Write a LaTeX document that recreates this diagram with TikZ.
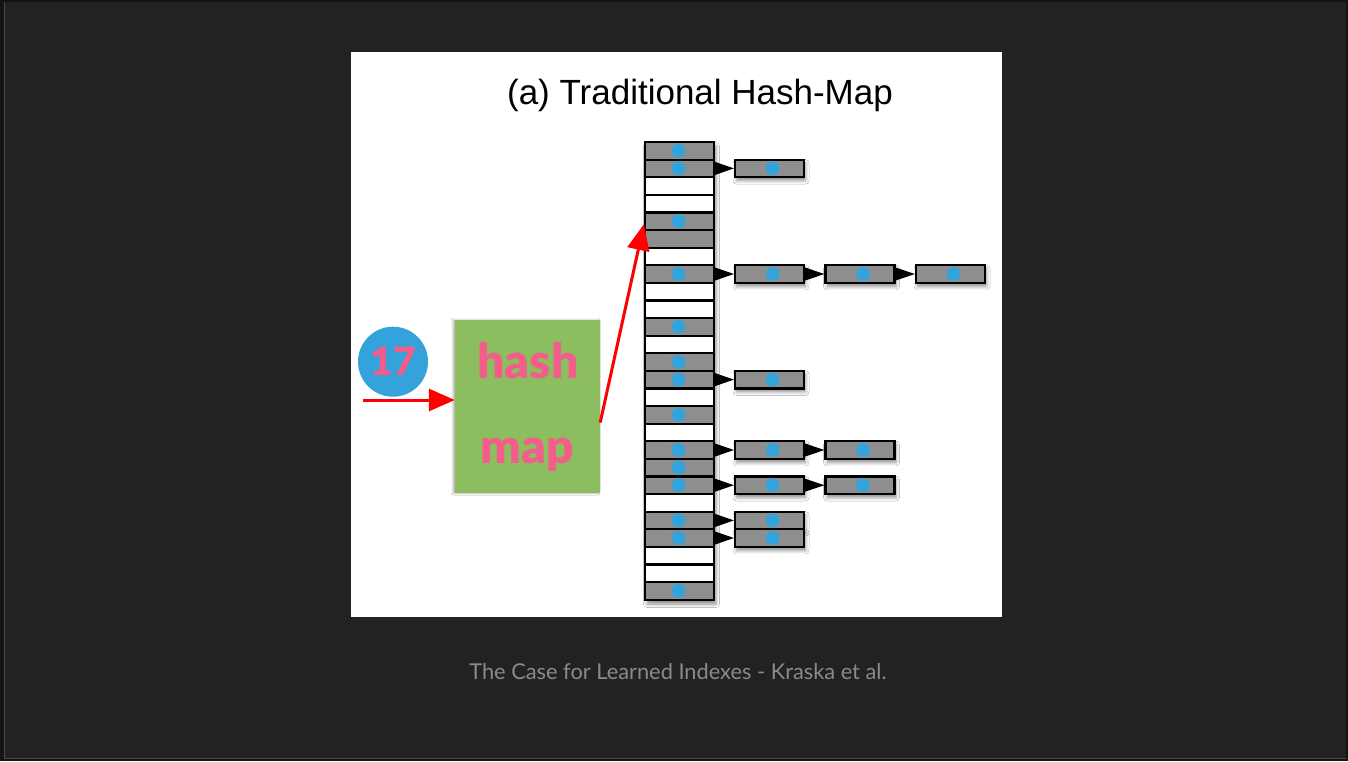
\documentclass[tikz,border=0pt]{standalone}
\usepackage{fontspec}
\setmainfont{Liberation Sans}
\newfontfamily\latofont{Lato}
\newfontfamily\latoheavy{Lato Black}
\usetikzlibrary{arrows.meta,shadows.blur,calc}
\definecolor{slidebg}{HTML}{222222}
\definecolor{slideedge}{HTML}{4A4A4A}
\definecolor{cellgray}{HTML}{8E8E8E}
\definecolor{dotblue}{HTML}{34A3DB}
\definecolor{hashgreen}{HTML}{8CBD5F}
\definecolor{hashpink}{HTML}{F45C8C}
\definecolor{captiongray}{HTML}{8A8A8A}
\tikzset{
  cell/.style={draw=black, line width=2.2pt, minimum width=69pt, minimum height=17.6pt, inner sep=0pt},
  link/.style={cell, fill=cellgray, blur shadow={shadow xshift=1.5pt, shadow yshift=-3.5pt, shadow blur radius=3.5pt, shadow opacity=45}},
  dot/.style={fill=dotblue},
  redarrow/.style={draw=red, line width=3pt, -{Triangle[length=26pt, width=22pt]}},
  pinktext/.style={text=hashpink, font=\latoheavy\fontsize{48}{52}\selectfont, inner sep=0pt}
}
\begin{document}
\begin{tikzpicture}[x=1pt, y=-1pt]
  % slide background and frame
  \fill[black!92] (0,0) rectangle (1348,761);
  \fill[slidebg] (4,2) rectangle (1346,758);
  \draw[slideedge, line width=1pt] (4,2) -- (4,758) -- (1346,758);
  \useasboundingbox (0,0) rectangle (1348,761);

  % white figure panel
  \fill[white] (351,52) rectangle (1002,617);
  \node[anchor=base, font=\fontsize{35}{40}\selectfont] (title) at (700,104) {(a) Traditional Hash-Map};

  % shadow under the bucket column
  \path[blur shadow={shadow xshift=2pt, shadow yshift=-4pt, shadow blur radius=3.5pt, shadow opacity=45}] (645,142) rectangle (714,600);

  % bucket array
  \foreach \c/\d [count=\i from 0] in {cellgray/1,cellgray/1,white/0,white/0,cellgray/1,cellgray/0,white/0,cellgray/1,white/0,white/0,cellgray/1,white/0,cellgray/1,cellgray/1,white/0,cellgray/1,white/0,cellgray/1,cellgray/1,cellgray/1,white/0,cellgray/1,cellgray/1,white/0,white/0,cellgray/1}{
    \node[cell, fill=\c] (r\i) at (679.5, {150.8+17.6*\i}) {};
    \ifnum\d=1 \fill[dot] ($(r\i.center)+(-1,0)$) circle (7); \fi
  }

  % overflow chains
  \foreach \r/\n in {1/1,7/3,13/1,17/2,19/2,21/1,22/1}{
    \foreach \k in {1,...,\n}{
      \node[link] (c\r-\k) at ({769.5+90.5*(\k-1)}, {150.8+17.6*\r}) {};
      \fill[dot] ($(c\r-\k.center)+(3,0)$) circle (7);
    }
  }
  \foreach \r/\n in {1/1,7/3,13/1,17/2,19/2,21/1,22/1}{
    \foreach \k in {1,...,\n}{
      \pgfmathtruncatemacro\p{\k-1}
      \ifnum\k=1 \def\src{r\r}\else\def\src{c\r-\p}\fi
      \fill[black] ($(\src.east)+(0,-6.5)$) -- (c\r-\k.west) -- ($(\src.east)+(0,6.5)$) -- cycle;
    }
  }

  % hash function box
  \node[fill=hashgreen, minimum width=145pt, minimum height=173pt, inner sep=0pt,
        blur shadow={shadow xshift=-2pt, shadow yshift=0pt, shadow blur radius=2pt, shadow opacity=30}] (hash) at (527.5,406.5) {};
  \node[pinktext, anchor=base] (hashword) at (528,378) {hash};
  \node[pinktext, anchor=base] (mapword) at (527.5,463) {map};

  % key
  \node[circle, fill=dotblue, minimum size=70pt, inner sep=0pt] (key) at (393,361.7) {};
  \node[anchor=base, text=hashpink, font=\latoheavy\fontsize{39}{42}\selectfont, inner sep=0pt] (keytext) at (393.5,375) {17};

  % lookup arrows
  \coordinate (in) at (363,400);
  \draw[redarrow] (in) -- (in -| hash.west);
  \coordinate (out) at ($(hash.east)+(0,16)$);
  \draw[redarrow] (out) -- ($(r4.west)+(0,3)$);

  % caption
  \node[anchor=base, text=captiongray, font=\latofont\fontsize{21.8}{24}\selectfont] (caption) at (678,679) {The Case for Learned Indexes - Kraska et al.};
\end{tikzpicture}
\end{document}
